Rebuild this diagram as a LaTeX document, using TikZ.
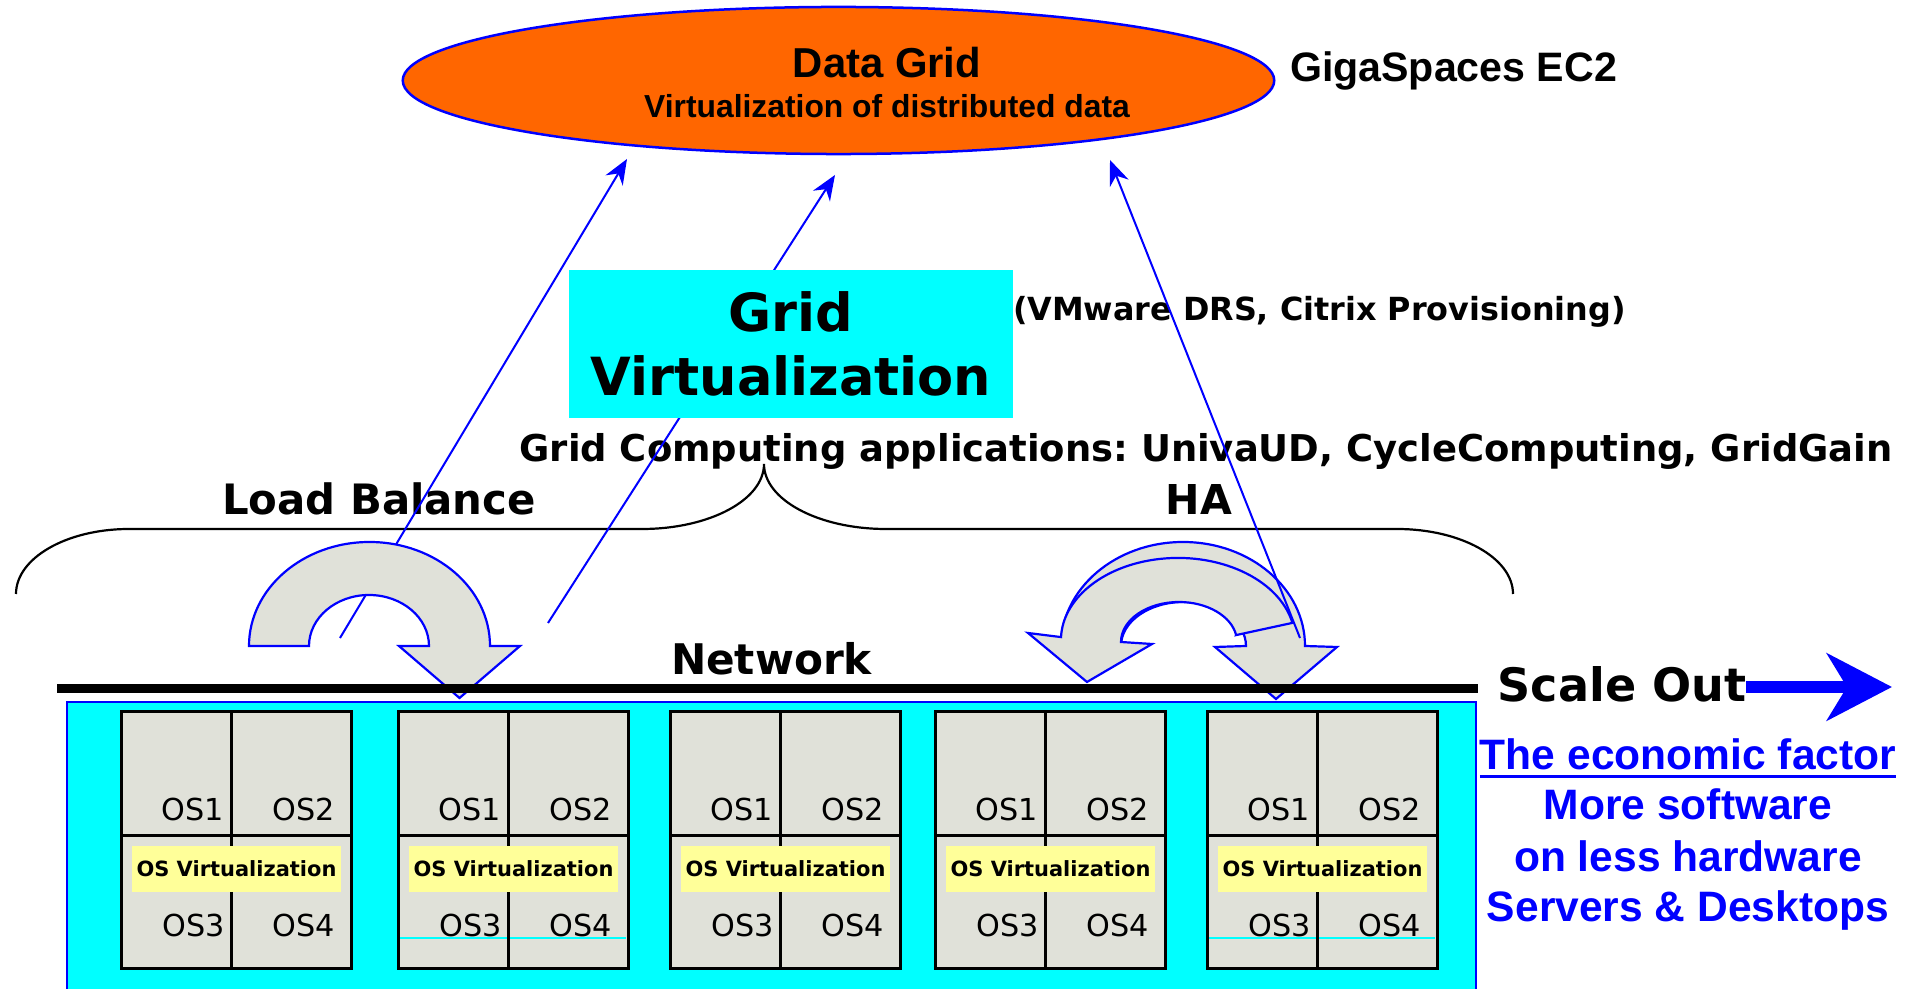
\documentclass[tikz,border=0pt]{standalone}
\usepackage{fontspec}
\setmainfont{DejaVu Sans}
\newfontfamily\verdfont{DejaVu Sans}
\newfontfamily\arialfont{Liberation Sans}
\usetikzlibrary{shapes.geometric,arrows.meta}
\frenchspacing

\definecolor{gridcyan}{RGB}{0,255,255}
\definecolor{dgorange}{RGB}{255,102,0}
\definecolor{cellgray}{RGB}{224,225,217}
\definecolor{vmyellow}{RGB}{255,255,153}
\definecolor{pureblue}{RGB}{0,0,255}

\newcommand\vbf[2]{\verdfont\bfseries\fontsize{#1}{#2}\selectfont}
\newcommand\abf[1]{\arialfont\bfseries\fontsize{#1}{#1}\selectfont}

\tikzset{
  lbl/.style={inner sep=0pt, outer sep=0pt, anchor=base},
  pointer/.style={draw=pureblue, line width=0.02cm, -{Stealth[length=0.25cm,width=0.2cm]}},
  bendarrow/.style={draw=pureblue, fill=cellgray, line width=0.022cm, line join=miter},
  cellline/.style={line width=0.03cm},
  oslbl/.style={inner sep=0pt, outer sep=0pt, anchor=base east, font=\verdfont\fontsize{8.6}{8.6}\selectfont},
  bluetxt/.style={lbl, text=pureblue, font=\abf{12.1}},
}

\begin{document}
\begin{tikzpicture}[x=0.01cm,y=0.01cm]
\useasboundingbox (0,0) rectangle (1914,-989);

% brace grouping load balancing and HA
\draw[line width=0.022cm] (16,-594) arc[start angle=180,end angle=90,x radius=113,y radius=65]
  -- (642,-529) arc[start angle=270,end angle=360,x radius=122,y radius=65]
  arc[start angle=180,end angle=270,x radius=122,y radius=65]
  -- (1397,-529) arc[start angle=90,end angle=0,x radius=116,y radius=65];

% labels above the network
\node[lbl, font=\vbf{11.9}{14}] (lb) at (379,-515) {Load Balance};
\node[lbl, font=\vbf{11.7}{14}] (ha) at (1199,-515) {HA};
\node[lbl, font=\vbf{10.5}{12}] (gca) at (1206,-462) {Grid Computing applications: UnivaUD, CycleComputing, GridGain};
\node[lbl, anchor=base west, font=\vbf{9.05}{11}] (vmw) at (1013,-321) {(VMware DRS, Citrix Provisioning)};

% pointers up to the data grid
\coordinate (lbfoot) at (340,-638);  \coordinate (lbtip) at (627,-159);
\coordinate (gvfoot) at (548,-623);  \coordinate (gvtip) at (835,-175);
\coordinate (hafoot) at (1300,-638); \coordinate (hatip) at (1110,-160);
\draw[pointer] (lbfoot) -- (lbtip);
\draw[pointer] (gvfoot) -- (gvtip);

% grid virtualization box
\node[fill=gridcyan, minimum width=4.44cm, minimum height=1.48cm, inner sep=0pt,
      align=center, font=\vbf{14.95}{18.2}] (gv) at (791,-344) {Grid\\Virtualization};

% load balance U-turn arrow
\draw[bendarrow] (249,-646) arc[start angle=180,end angle=0,x radius=120.5,y radius=104]
  -- (520,-646) -- (459.5,-698) -- (399,-646) -- (429,-646)
  arc[start angle=0,end angle=180,x radius=60,y radius=51] -- cycle;

% HA swap arrows
\draw[bendarrow] (1061,-646) arc[start angle=180,end angle=0,x radius=122,y radius=104]
  -- (1337,-647) -- (1276,-699) -- (1215,-647) -- (1246,-646)
  arc[start angle=0,end angle=180,x radius=62.5,y radius=44] -- cycle;
\draw[bendarrow] (1236.1,-635.1) -- (1292.4,-622.9)
  arc[start angle=12,end angle=178,x radius=117,y radius=82]
  -- (1028,-633) -- (1087,-682) -- (1152,-644) -- (1121,-642)
  arc[start angle=180,end angle=10,x radius=58,y radius=40] -- cycle;

\draw[pointer] (hafoot) -- (hatip);

% data grid
\node[ellipse, draw=pureblue, fill=dgorange, line width=0.025cm, minimum width=8.71cm,
      minimum height=1.47cm, inner sep=0pt] (dg) at (838.5,-80.5) {};
\node[lbl, font=\abf{11.9}] (dgt) at (887,-78) {Data Grid};
\node[lbl, font=\abf{9.05}] (dgs) at (887,-118) {Virtualization of distributed data};
\node[lbl, anchor=base west, font=\abf{11.7}] (gs) at (1290,-82) {GigaSpaces EC2};

% server rack
\draw[draw=pureblue, fill=gridcyan, line width=0.025cm] (67,-702) rectangle (1476,-1000);
\foreach \L/\cy [count=\i] in {121/0,398/1,670/0,935/0,1207/1} {
  \fill[cellgray] (\L,-712) rectangle ++(230,-257);
  \ifnum\cy=1 \draw[gridcyan, line width=0.012cm] (\L+2,-938) -- ++(226,0); \fi
  \draw[cellline] (\L+110,-712) -- (\L+110,-969);
  \draw[cellline] (\L,-836) -- ++(230,0);
  \node[fill=vmyellow, minimum width=2.09cm, minimum height=0.46cm, inner sep=0pt,
        font=\vbf{5.96}{7}] (osv\i) at (\L+115.5,-869) {OS Virtualization};
  \draw[cellline] (\L,-712) rectangle ++(230,-257);
  \node[oslbl] (osa\i) at (\L+103,-821) {OS1};
  \node[oslbl] (osb\i) at (\L+214,-821) {OS2};
  \node[oslbl] (osc\i) at (\L+104,-937) {OS3};
  \node[oslbl] (osd\i) at (\L+214,-937) {OS4};
}

% network
\draw[line width=0.09cm] (57,-689) -- (1478,-689);
\node[lbl, font=\vbf{12}{14}] (net) at (771.5,-675) {Network};

% scale out
\node[lbl, font=\vbf{13.1}{15}] (so) at (1622,-702) {Scale Out};
\coordinate (sotip) at (1892,-687);
\draw[pureblue, line width=0.12cm, -{Stealth[length=0.65cm,width=0.67cm,inset=0.2cm]}] (so.east |- sotip) -- (sotip);

% economics
\node[bluetxt] (econ) at (1688,-770) {The economic factor};
\draw[pureblue, line width=0.03cm] ([yshift=-0.065cm]econ.base west) -- ([yshift=-0.065cm]econ.base east);
\node[bluetxt] (more) at (1688,-820) {More software};
\node[bluetxt] (less) at (1688,-872) {on less hardware};
\node[bluetxt] (desk) at (1688,-922) {Servers \& Desktops};
\end{tikzpicture}
\end{document}
